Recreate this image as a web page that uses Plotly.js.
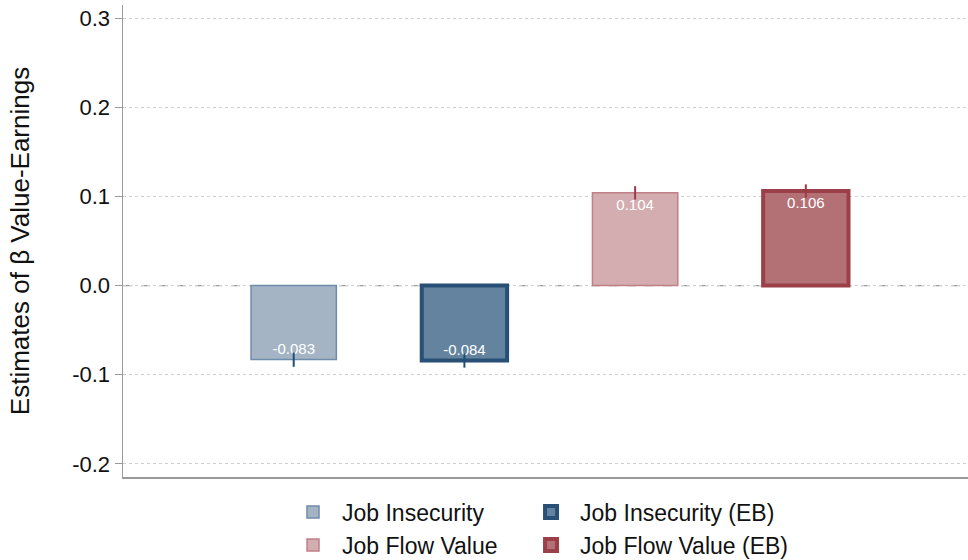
<!DOCTYPE html>
<html>
<head>
<meta charset="utf-8">
<script src="https://cdn.plot.ly/plotly-3.0.1.min.js"></script>
<style>
  html, body { margin: 0; padding: 0; background: #fff; }
  #chart { width: 968px; height: 560px; }
</style>
</head>
<body>
<div id="chart"></div>
<script>
// Values
const seriesNames = ["Job Insecurity", "Job Insecurity (EB)", "Job Flow Value", "Job Flow Value (EB)"];
const positions = [1, 2, 3, 4];
const estimates = [-0.083, -0.084, 0.104, 0.106];
const errors = [0.008, 0.008, 0.0075, 0.0075];
const labels = ["-0.083", "-0.084", "0.104", "0.106"];
const yTicks = [-0.2, -0.1, 0, 0.1, 0.2, 0.3];
const yTickText = ["-0.2", "-0.1", "0.0", "0.1", "0.2", "0.3"];

// Styles
const fills = ["#a4b4c4", "#64839f", "#d3adb0", "#b37176"];
const outlines = ["#6f8cab", "#284f75", "#c08088", "#9b3f48"];
const outlineWidths = [1.5, 4, 1.5, 4];
const errColors = ["#1f4e79", "#1f4e79", "#9e3a48", "#9e3a48"];

// one legend box per entry: 2 columns x 2 rows
const legendIds = ["legend", "legend2", "legend3", "legend4"];
const legendX = [0.2934, 0.5393, 0.2934, 0.5393];
const legendY = [0.0857, 0.0857, 0.0268, 0.0268];

const font = "Arial, 'Liberation Sans', sans-serif";

const traces = seriesNames.map((name, i) => ({
    type: "bar",
    name: name,
    x: [positions[i]],
    y: [estimates[i]],
    width: 0.5,
    text: [labels[i]],
    textposition: "inside",
    insidetextanchor: "end",
    constraintext: "none",
    textfont: { color: "#ffffff", size: 15, family: font },
    marker: { color: fills[i], line: { color: outlines[i], width: outlineWidths[i] } },
    error_y: { type: "data", array: [errors[i]], visible: true, color: errColors[i], thickness: 2, width: 0 },
    legend: legendIds[i],
    hoverinfo: "skip"
}));

const layout = {
    width: 968,
    height: 560,
    margin: { l: 123, r: 0, t: 5, b: 83, autoexpand: false },
    paper_bgcolor: "#fff",
    plot_bgcolor: "#fff",
    font: { family: font, color: "#111" },
    bargap: 0,
    showlegend: true,
    xaxis: {
        range: [0, 4.95],
        showticklabels: false,
        ticks: "",
        showgrid: false,
        zeroline: false,
        showline: true,
        linecolor: "#9a9a9a",
        linewidth: 1.5
    },
    yaxis: {
        range: [-0.2146, 0.3146],
        automargin: false,
        tickvals: yTicks,
        ticktext: yTickText,
        ticks: "outside",
        ticklen: 7,
        tickcolor: "#9a9a9a",
        tickfont: { size: 22, family: font, color: "#111" },
        showgrid: true,
        gridcolor: "#cfcfcf",
        griddash: "dot",
        zeroline: false,
        showline: true,
        linecolor: "#9a9a9a",
        linewidth: 1.5,
        title: { text: "Estimates of β Value-Earnings", font: { size: 26, family: font, color: "#111" }, standoff: 35 }
    },
    shapes: [{
        type: "line", xref: "paper", yref: "y",
        x0: 0, x1: 1, y0: 0, y1: 0,
        line: { color: "#9a9a9a", width: 1.2, dash: "dash" },
        layer: "below"
    }]
};

legendIds.forEach((id, i) => {
    layout[id] = {
        orientation: "h",
        xref: "container",
        yref: "container",
        xanchor: "left",
        yanchor: "middle",
        x: legendX[i],
        y: legendY[i],
        itemwidth: 48,
        font: { size: 23, family: font, color: "#111" },
        bgcolor: "rgba(0,0,0,0)"
    };
});

Plotly.newPlot("chart", traces, layout, { displayModeBar: false, staticPlot: true });
</script>
</body>
</html>
